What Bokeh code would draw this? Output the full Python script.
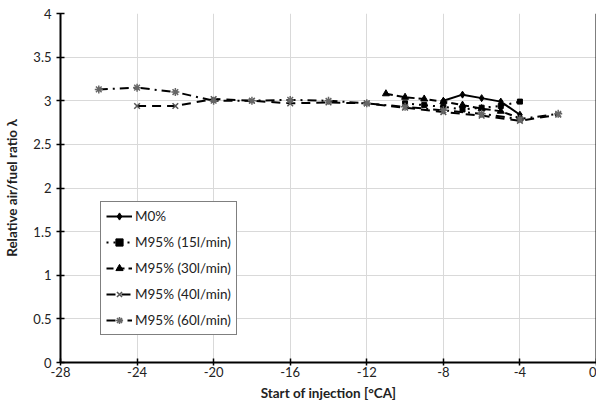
from bokeh.plotting import figure
from bokeh.models import Span, FixedTicker, Legend, LegendItem
from bokeh.embed import file_html
from bokeh.resources import INLINE

# Data
m0_x = [-8, -7, -6, -5, -4]
m0_y = [3.00, 3.07, 3.03, 2.99, 2.84]

m15_x = [-10, -9, -8, -7, -6, -5, -4]
m15_y = [2.97, 2.95, 2.93, 2.90, 2.92, 2.94, 2.99]

m30_x = [-11, -10, -9, -8, -7, -6, -5, -4]
m30_y = [3.08, 3.04, 3.02, 2.99, 2.95, 2.91, 2.88, 2.80]

m40_x = [-24, -22, -20, -18, -16, -14, -12, -10, -8, -6, -4, -2]
m40_y = [2.94, 2.94, 3.02, 3.00, 2.97, 2.98, 2.97, 2.92, 2.87, 2.83, 2.77, 2.84]

m60_x = [-26, -24, -22, -20, -18, -16, -14, -12, -10, -8, -6, -4, -2]
m60_y = [3.13, 3.15, 3.10, 3.00, 3.00, 3.01, 3.00, 2.97, 2.93, 2.89, 2.85, 2.79, 2.85]

x_ticks = [-28, -24, -20, -16, -12, -8, -4, 0]
x_labels = ["-28", "-24", "-20", "-16", "-12", "-8", "-4", "0"]
y_ticks = [0, 0.5, 1, 1.5, 2, 2.5, 3, 3.5, 4]
y_labels = ["0", "0.5", "1", "1.5", "2", "2.5", "3", "3.5", "4"]

FONT = "Lato"

p = figure(width=596, height=404, x_range=(-28, 0), y_range=(0, 4),
           output_backend="svg", toolbar_location=None,
           min_border_left=60, min_border_right=0, min_border_top=13, min_border_bottom=42)
p.outline_line_color = None
p.background_fill_color = "white"
p.border_fill_color = "white"

for ax in (p.xaxis[0], p.yaxis[0]):
    ax.axis_line_color = "black"
    ax.axis_line_width = 2
    ax.major_tick_line_color = "black"
    ax.major_tick_line_width = 1.5
    ax.major_tick_in = 4
    ax.major_tick_out = 4
    ax.minor_tick_line_color = None
    ax.major_label_text_font = FONT
    ax.major_label_text_font_size = "13px"
    ax.major_label_text_color = "#222222"
    ax.axis_label_text_font = FONT
    ax.axis_label_text_font_size = "13.5px"
    ax.axis_label_text_font_style = "bold"
    ax.axis_label_text_color = "#222222"

p.xaxis.ticker = FixedTicker(ticks=x_ticks)
p.yaxis.ticker = FixedTicker(ticks=y_ticks)
p.xaxis.major_label_overrides = dict(zip(x_ticks, x_labels))
p.yaxis.major_label_overrides = dict(zip(y_ticks, y_labels))
p.xaxis.major_tick_out = 3
p.xaxis.major_label_standoff = 1
p.xaxis.axis_label = "Start of injection [°CA]"
p.yaxis.axis_label = "Relative air/fuel ratio λ"
p.xaxis.axis_label_standoff = 5
p.yaxis.axis_label_standoff = 10

p.xgrid.grid_line_color = "#d9d9d9"
p.ygrid.grid_line_color = "#d9d9d9"
p.xgrid.grid_line_width = 1
p.ygrid.grid_line_width = 1

p.add_layout(Span(location=0, dimension="height", line_color="black", line_width=2))

items = []
r = p.line(m0_x, m0_y, line_color="black", line_width=2)
s = p.scatter(m0_x, m0_y, marker="diamond", size=7, color="black")
items.append(LegendItem(label="M0%", renderers=[r, s]))

r = p.line(m15_x, m15_y, line_color="black", line_width=2, line_dash="2 5")
s = p.scatter(m15_x, m15_y, marker="square", size=5, color="black")
items.append(LegendItem(label="M95% (15l/min)", renderers=[r, s]))

r = p.line(m30_x, m30_y, line_color="black", line_width=2, line_dash="7 4")
s = p.scatter(m30_x, m30_y, marker="triangle", size=7, color="black")
items.append(LegendItem(label="M95% (30l/min)", renderers=[r, s]))

r = p.line(m40_x, m40_y, line_color="black", line_width=2, line_dash="9 6")
s = p.scatter(m40_x, m40_y, marker="x", size=8, line_color="#555555", line_width=1.5)
items.append(LegendItem(label="M95% (40l/min)", renderers=[r, s]))

r = p.line(m60_x, m60_y, line_color="black", line_width=2, line_dash="9 5 2 5")
s = p.scatter(m60_x, m60_y, marker="asterisk", size=8, line_color="#666666", line_width=1.5)
items.append(LegendItem(label="M95% (60l/min)", renderers=[r, s]))

legend = Legend(items=items, location=(40, 27))
legend.border_line_color = "black"
legend.border_line_width = 1
legend.background_fill_alpha = 1
legend.label_text_font = FONT
legend.label_text_font_size = "13.5px"
legend.label_text_color = "#222222"
legend.glyph_width = 26
legend.glyph_height = 18
legend.label_height = 18
legend.spacing = 8
legend.padding = 5
legend.margin = 0
legend.label_standoff = 3
p.add_layout(legend, "center")

open("out.html", "w").write(file_html(p, INLINE))
